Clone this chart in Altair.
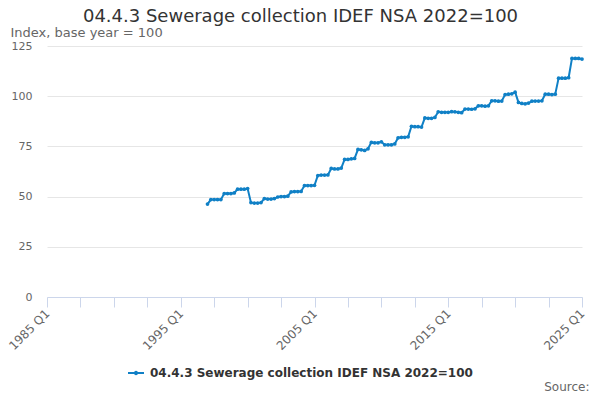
import altair as alt
import pandas as pd

series_name = "04.4.3 Sewerage collection IDEF NSA 2022=100"

# first period: 1997 Q1, last period: 2025 Q1 (quarterly)
start_year = 1997
start_quarter = 1
values = [
    46.3,
    48.5, 48.5, 48.5, 48.5,
    51.5, 51.5, 51.5, 51.8,
    53.7, 53.7, 53.7, 54.0,
    47.0, 46.8, 46.8, 47.0,
    49.0, 48.8, 48.8, 49.0,
    49.8, 50.0, 50.0, 50.2,
    52.3, 52.5, 52.5, 52.6,
    55.5, 55.5, 55.5, 55.6,
    60.5, 60.7, 60.7, 60.8,
    64.0, 63.8, 63.8, 64.2,
    68.5, 68.5, 68.8, 69.0,
    73.5, 73.3, 73.0, 73.8,
    77.0, 76.8, 76.8, 77.3,
    75.8, 75.8, 75.8, 76.2,
    79.3, 79.5, 79.5, 79.8,
    85.0, 84.8, 84.8, 84.6,
    89.2, 89.0, 89.0, 89.4,
    92.2, 92.0, 92.0, 92.0,
    92.3, 92.2, 92.0, 91.8,
    93.6, 93.6, 93.5, 93.7,
    95.2, 95.2, 95.0, 95.2,
    97.7, 97.7, 97.5, 97.6,
    100.8, 101.0, 101.2, 102.0,
    96.9, 96.4, 96.2, 96.6,
    97.5, 97.6, 97.6, 97.7,
    101.0, 101.0, 100.8, 101.0,
    109.0, 109.0, 109.0, 109.2,
    118.8, 118.8, 118.8, 118.5,
]

axis_start_year = 1985
x_tick_values = list(range(0, 161, 10))
y_tick_values = [0, 25, 50, 75, 100, 125]

periods = []
qidx = []
for i in range(len(values)):
    k = (start_year * 4 + start_quarter - 1) + i
    y, q = divmod(k, 4)
    periods.append(f"{y} Q{q + 1}")
    qidx.append(k - axis_start_year * 4)

df = pd.DataFrame({"period": periods, "q": qidx, "value": values, "series": series_name})

color = "#1080c6"
font = "DejaVu Sans"

legend_symbol = "M-1,0L1,0M-0.15,0A0.15,0.15,0,1,1,0.15,0A0.15,0.15,0,1,1,-0.15,0Z"

chart = alt.Chart(df).mark_line(
    strokeWidth=2,
    point=alt.OverlayMarkDef(filled=True, size=14, color=color),
).encode(
    x=alt.X(
        "q:Q",
        scale=alt.Scale(domain=[0, 160], nice=False, zero=False),
        axis=alt.Axis(
            values=x_tick_values,
            labelExpr=f"datum.value % 40 == 0 ? ({axis_start_year} + datum.value / 4) + ' Q1' : ''",
            labelAngle=-45,
            labelAlign="right",
            labelBaseline="middle",
            labelFontSize=12,
            labelColor="#666666",
            labelFont=font,
            labelPadding=4,
            labelOverlap=False,
            labelFlush=False,
            tickSize=10,
            tickColor="#ccd6eb",
            domainColor="#ccd6eb",
            grid=False,
            title="Source:",
            titleX=542,
            titleY=93,
            titleAlign="right",
            titleBaseline="alphabetic",
            titleAnchor="end",
            titleFont=font,
            titleFontSize=12,
            titleFontWeight="normal",
            titleColor="#666666",
        ),
    ),
    y=alt.Y(
        "value:Q",
        scale=alt.Scale(domain=[0, 125], nice=False),
        axis=alt.Axis(
            values=y_tick_values,
            grid=True,
            gridColor="#e6e6e6",
            domain=False,
            ticks=False,
            tickSize=0,
            labelPadding=15,
            labelFontSize=11,
            labelColor="#666666",
            labelFont=font,
            title="Index, base year = 100",
            titleAngle=0,
            titleAlign="left",
            titleBaseline="alphabetic",
            titleX=-37,
            titleY=-10,
            titleFont=font,
            titleFontSize=13,
            titleFontWeight="normal",
            titleColor="#666666",
        ),
    ),
    color=alt.Color(
        "series:N",
        scale=alt.Scale(range=[color]),
        legend=alt.Legend(
            title=None,
            orient="none",
            legendX=80,
            legendY=318,
            symbolType=legend_symbol,
            symbolSize=256,
            symbolStrokeWidth=2,
            symbolFillColor=color,
            labelFont=font,
            labelFontSize=12,
            labelFontWeight="bold",
            labelColor="#333333",
            labelOffset=5,
            labelLimit=0,
        ),
    ),
).properties(
    width=535,
    height=251,
    autosize=alt.AutoSizeParams(type="none"),
    padding={"left": 39, "top": 38, "right": 10, "bottom": 99},
    title=alt.TitleParams(
        series_name,
        anchor="middle",
        dx=-14,
        font=font,
        fontSize=18,
        fontWeight="normal",
        color="#333333",
        baseline="alphabetic",
        offset=-14,
    ),
).configure_view(stroke=None)

chart.save("out.html", embed_options={"renderer": "svg", "actions": False})
